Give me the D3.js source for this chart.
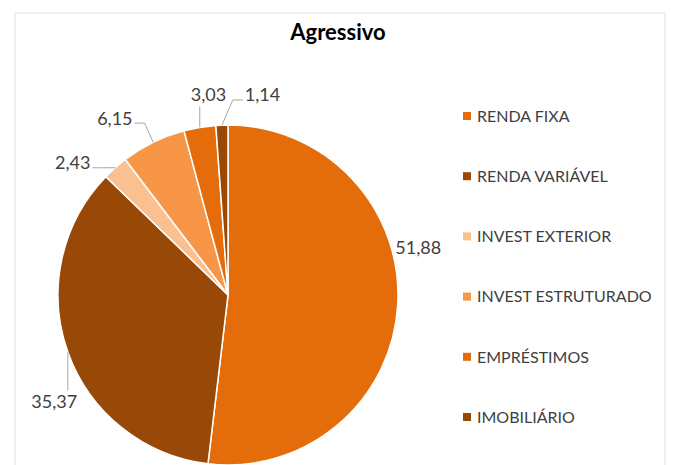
<!DOCTYPE html>
<html>
<head>
<meta charset="utf-8">
<script src="https://cdn.jsdelivr.net/npm/d3@7"></script>
<style>
  html, body { margin: 0; padding: 0; background: #fff; }
  svg { display: block; }
</style>
</head>
<body>
<svg id="chart" width="675" height="465"></svg>
<script>
// ---- data ----
const categories = ["RENDA FIXA", "RENDA VARIÁVEL", "INVEST EXTERIOR", "INVEST ESTRUTURADO", "EMPRÉSTIMOS", "IMOBILIÁRIO"];
const values = [51.88, 35.37, 2.43, 6.15, 3.03, 1.14];
const valueLabels = ["51,88", "35,37", "2,43", "6,15", "3,03", "1,14"];
const colors = ["#E46C0A", "#984807", "#FAC090", "#F79646", "#E46C0A", "#984807"];
const title = "Agressivo";

// ---- label layout (polar position of label centre, leader style) ----
const labelAngleDeg = [76.1, 238.4, 310.4, 327.4, 354.4, 9.8];
const labelRadius = [196, 204, 204, 210, 201, 203];
const leaderKind = ["none", "v", "h", "h", "v", "h"];

const W = 675, H = 465;
const cx = 228, cy = 295, R = 170;
const svg = d3.select("#chart");

// frame
svg.append("rect")
  .attr("x", 15).attr("y", 13).attr("width", 650).attr("height", H)
  .attr("fill", "#fff").attr("stroke", "#ECECE4").attr("stroke-width", 1.5);

// title
svg.append("text")
  .attr("x", 338).attr("y", 40)
  .attr("text-anchor", "middle")
  .attr("font-family", "Lato, 'Open Sans', sans-serif")
  .attr("font-weight", 700)
  .attr("font-size", 22)
  .attr("fill", "#000")
  .text(title);

const data = categories.map((c, i) => ({ cat: c, value: values[i], label: valueLabels[i], color: colors[i], i }));

const pie = d3.pie().value(d => d.value).sort(null).startAngle(0).endAngle(2 * Math.PI);
const arc = d3.arc().innerRadius(0).outerRadius(R);
const arcs = pie(data);

const g = svg.append("g").attr("transform", `translate(${cx},${cy})`);
g.selectAll("path.slice")
  .data(arcs)
  .join("path")
  .attr("class", "slice")
  .attr("d", arc)
  .attr("fill", d => d.data.color)
  .attr("stroke", "#fff")
  .attr("stroke-width", 1.5)
  .attr("stroke-linejoin", "round");

// labels
const fs = 18;
const lblFont = "Lato, 'Open Sans', sans-serif";
arcs.forEach((a, i) => {
  const th = labelAngleDeg[i] * Math.PI / 180;
  const lx = labelRadius[i] * Math.sin(th);
  const ly = -labelRadius[i] * Math.cos(th);
  const t = g.append("text")
    .attr("x", lx).attr("y", ly + 0.36 * fs)
    .attr("text-anchor", "middle")
    .attr("font-family", lblFont)
    .attr("font-size", fs)
    .attr("fill", "#404040")
    .text(a.data.label);
  const bb = t.node().getBBox();
  const mid = (a.startAngle + a.endAngle) / 2;
  const ex = R * Math.sin(mid), ey = -R * Math.cos(mid);
  let pts = null;
  const halfW = bb.width / 2;
  const digitTop = ly - 0.36 * fs, digitBot = ly + 0.36 * fs;
  if (leaderKind[i] === "v") {
    const endY = ey > ly ? digitBot + 5 : digitTop - 5;
    pts = [[ex, ey], [ex, endY]];
  } else if (leaderKind[i] === "h") {
    const right = ex > lx;
    const sx = right ? lx + halfW + 2 : lx - halfW - 2;
    const yy = ly + 5;
    const elbowX = right ? sx + 10 : sx - 10;
    pts = [[sx, yy], [elbowX, yy], [ex, ey]];
  }
  if (pts) {
    g.append("path")
      .attr("d", d3.line()(pts))
      .attr("fill", "none")
      .attr("stroke", "#A6A6A6")
      .attr("stroke-width", 1);
  }
});

// legend
const legendY = d3.scalePoint().domain(categories).range([116, 417]);
const lg = svg.append("g");
categories.forEach((c, i) => {
  const y = legendY(c);
  lg.append("rect")
    .attr("x", 463).attr("y", y - 4)
    .attr("width", 8).attr("height", 8)
    .attr("fill", colors[i]);
  lg.append("text")
    .attr("x", 477).attr("y", y + 0.36 * 16)
    .attr("font-family", lblFont)
    .attr("font-size", 16)
    .attr("fill", "#404040")
    .text(c);
});
</script>
</body>
</html>
